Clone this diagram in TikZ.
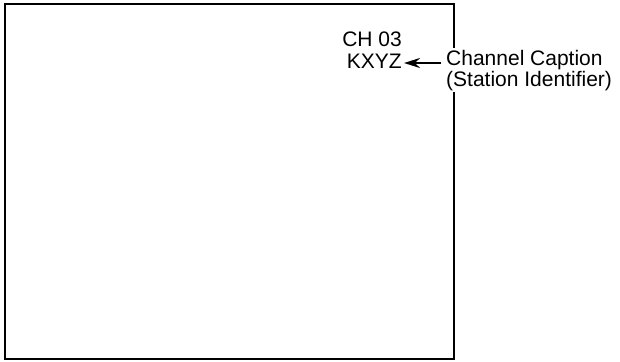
\documentclass[tikz,border=0pt]{standalone}
\usepackage{fontspec}
\setmainfont{Liberation Sans}
\usetikzlibrary{arrows.meta}
\begin{document}
\begin{tikzpicture}[x=1pt,y=-1pt,
  screen/.style={line width=1.6pt},
  txt/.style={font=\fontsize{21}{21}\selectfont, inner sep=2pt},
  arr/.style={line width=2.2pt,-{Stealth[length=16pt,width=10pt]}}]
\useasboundingbox (0,0) rectangle (620,361);
\draw[screen] (5,4) rectangle (454,359);
\node[txt, align=right, anchor=base east] (ch) at (404,68) {CH 03\\KXYZ};
\node[txt, align=left, anchor=base west, fill=white] (cap) at (444,86) {Channel Caption\\(Station Identifier)};
\coordinate (tail) at (441,63);
\draw[arr] (tail) -- (tail -| ch.east);
\end{tikzpicture}
\end{document}
